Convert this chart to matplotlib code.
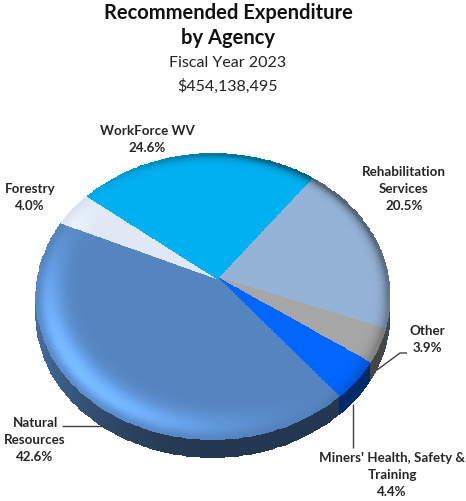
import numpy as np
import matplotlib
matplotlib.use("Agg")
import matplotlib.pyplot as plt

# slices, clockwise from the WorkForce / Rehabilitation boundary
names = ["Rehabilitation", "Other", "Miners", "Natural", "Forestry", "WorkForce"]
shares = [20.5, 3.9, 4.4, 42.6, 4.0, 24.6]
colors = ["#95B3D7", "#A6A6A6", "#0066FF", "#5585C0", "#DFE8F4", "#00B0F0"]

start_angle = 53.0
apex_x, apex_y = 217.0, 279.0
a, b, q, p = 175.0, 140.0, 0.13, 0.023
depth = 18.0

plt.rcParams["font.family"] = ["Lato", "DejaVu Sans"]


# Tilted disc seen in perspective, returns pixel style coordinates
def project(r, t):
    x = r * np.cos(t)
    y = r * np.sin(t)
    w = 1 + q * y + p * x
    return apex_x + a * x / w, apex_y - b * y / w


def hex_rgb(c):
    return np.array(matplotlib.colors.to_rgb(c))


# Brightness of the top face: flat middle, soft bevel near the rim
def top_shade(r, t):
    light = np.cos(t - np.radians(-140))
    bump = np.exp(-(((r - 0.94) / np.where(r < 0.94, 0.08, 0.05)) ** 2))
    glow = bump * 0.42 * np.clip(light, 0, 1) ** 2.5
    edge = np.clip((r - 0.86) / 0.14, 0, 1) ** 4
    dark = edge * (0.03 + 0.45 * np.clip((0.2 - light) / 1.2, 0, 1))
    return glow, dark


def side_shade(t):
    light = np.clip(np.cos(t - np.radians(-180)), 0, 1)
    return 0.42 + 0.42 * light**2


fig = plt.figure(figsize=(4.66, 5.02), dpi=100)
ax = fig.add_axes([0, 0, 1, 1])
ax.set_xlim(0, 466)
ax.set_ylim(502, 0)
ax.axis("off")

angles = start_angle - np.cumsum([0] + shares) * 3.6

# side wall first, the top face covers what should not show
for i, c in enumerate(colors):
    t = np.radians(np.linspace(angles[i], angles[i + 1], 120))
    xr, yr = project(1.0, t)
    X = np.array([xr, xr])
    Y = np.array([yr, yr + depth])
    tm = (t[:-1] + t[1:]) / 2
    rgb = hex_rgb(c)[None, None, :] * side_shade(tm)[None, :, None]
    ax.pcolormesh(X, Y, np.clip(rgb, 0, 1), shading="flat", edgecolor="face", linewidth=0.3)

# top face
rad = np.linspace(0, 1, 170)
for i, c in enumerate(colors):
    t = np.radians(np.linspace(angles[i], angles[i + 1], 120))
    R, T = np.meshgrid(rad, t, indexing="ij")
    X, Y = project(R, T)
    rm = (rad[:-1] + rad[1:]) / 2
    tm = (t[:-1] + t[1:]) / 2
    Rm, Tm = np.meshgrid(rm, tm, indexing="ij")
    glow, dark = top_shade(Rm, Tm)
    # multiply so the highlight stays saturated
    rgb = hex_rgb(c) * (1 + glow[..., None]) * (1 - dark[..., None])
    ax.pcolormesh(X, Y, np.clip(rgb, 0, 1), shading="flat", edgecolor="face", linewidth=0.3)

# leader lines
line = dict(color="#404040", lw=1.0, solid_capstyle="butt")
ax.plot([62, 106], [427, 427], **line)
ax.plot([353, 353], [405, 449], **line)
ax.plot([377, 400, 407], [371, 354, 354], **line)

# titles
ax.text(228, 13, "Recommended Expenditure", ha="center", va="center", fontsize=14.5, fontweight="bold", color="#111111")
ax.text(228, 38, "by Agency", ha="center", va="center", fontsize=14.5, fontweight="bold", color="#111111")
ax.text(228, 63, "Fiscal Year 2023", ha="center", va="center", fontsize=11.5, color="#222222")
ax.text(228, 86, "$454,138,495", ha="center", va="center", fontsize=11.5, color="#222222")

# data labels
lab = dict(ha="center", va="center", fontsize=9.6, fontweight="bold", color="#262626", linespacing=1.5)
ax.text(147, 140, "WorkForce WV\n24.6%", **lab)
ax.text(30, 198, "Forestry\n4.0%", **lab)
ax.text(404, 189, "Rehabilitation\nServices\n20.5%", **lab)
ax.text(427, 340, "Other\n3.9%", **lab)
ax.text(392, 475, "Miners' Health, Safety &\nTraining\n4.4%", **lab)
ax.text(35, 440, "Natural\nResources\n42.6%", **lab)

fig.savefig("out.png", dpi=100)
